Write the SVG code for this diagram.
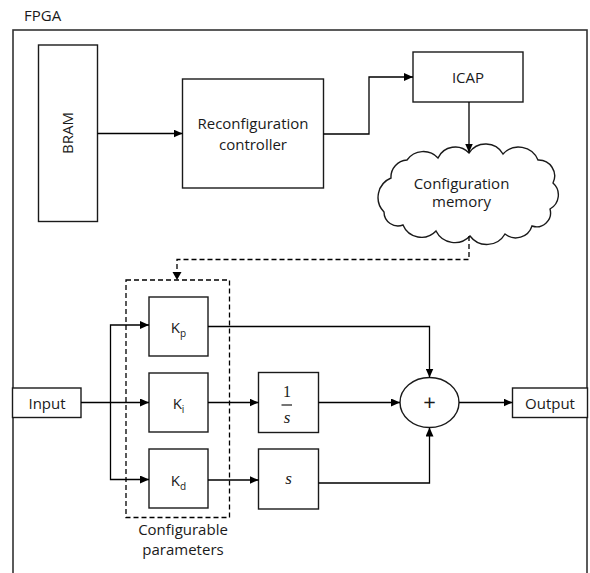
<svg xmlns="http://www.w3.org/2000/svg" width="590" height="573" viewBox="0 0 590 573">
  <style>
    .box { fill: #ffffff; stroke: #1a1a1a; stroke-width: 1.4; }
    .frame { fill: none; stroke: #333333; stroke-width: 1.6; }
    .wire { fill: none; stroke: #000000; stroke-width: 1.3; }
    .dash { fill: none; stroke: #000000; stroke-width: 1.3; stroke-dasharray: 5 3; }
    .lbl { font-family: "Open Sans", "Liberation Sans", sans-serif; font-size: 15px; fill: #1a1a1a; text-anchor: middle; }
    .sub { font-size: 10px; }
    .plus { font-size: 22px; }
    .math { font-family: "Liberation Serif", "DejaVu Serif", serif; fill: #1a1a1a; text-anchor: middle; }
  </style>
  <defs>
    <marker id="arrow" markerWidth="9" markerHeight="8" refX="9" refY="4" orient="auto" markerUnits="userSpaceOnUse">
      <path d="M0,0 L9,4 L0,8 z" fill="#000000"/>
    </marker>
  </defs>

  <rect width="590" height="573" fill="#ffffff"/>

  <!-- device boundary, open at the bottom edge -->
  <g id="fpga">
    <rect class="frame" x="13" y="30" width="574" height="560"/>
    <text x="24" y="20.5" font-family="Open Sans, Liberation Sans, sans-serif" font-size="15" fill="#1a1a1a">FPGA</text>
  </g>

  <g id="bram">
    <rect class="box" x="38.5" y="45" width="59" height="176.5"/>
    <text class="lbl" transform="translate(73,133) rotate(-90)">BRAM</text>
  </g>

  <g id="controller">
    <rect class="box" x="182.5" y="79" width="141" height="109"/>
    <text class="lbl" x="253" y="128.5">Reconfiguration</text>
    <text class="lbl" x="253" y="150">controller</text>
  </g>

  <g id="icap">
    <rect class="box" x="413" y="52" width="110" height="50"/>
    <text class="lbl" x="468" y="83">ICAP</text>
  </g>

  <g id="config-memory">
    <path class="box" d="M384,212
      A21,21 0 0 1 391,178
      A17,17 0 0 1 407,160
      A20,20 0 0 1 438,158
      A19,19 0 0 1 469,153
      A20,20 0 0 1 503,154
      A21,21 0 0 1 538,160
      A16,16 0 0 1 553,183
      A16,16 0 0 1 550,209
      A14,14 0 0 1 532,226
      A17,17 0 0 1 505,234
      A21,21 0 0 1 470,236
      A21,21 0 0 1 436,231
      A20,20 0 0 1 403,225
      A14,14 0 0 1 384,212 z"/>
    <text class="lbl" x="461.5" y="188.5">Configuration</text>
    <text class="lbl" x="461.5" y="207">memory</text>
  </g>

  <g id="params">
    <rect class="dash" x="126" y="280" width="103.5" height="237.5"/>
    <text class="lbl" x="183" y="535">Configurable</text>
    <text class="lbl" x="183" y="555">parameters</text>
  </g>

  <g id="kp">
    <rect class="box" x="149" y="297" width="59" height="59"/>
    <text class="lbl" x="178.5" y="333">K<tspan class="sub" dy="4">p</tspan></text>
  </g>

  <g id="ki">
    <rect class="box" x="149" y="373" width="59" height="59"/>
    <text class="lbl" x="178.5" y="409">K<tspan class="sub" dy="4">i</tspan></text>
  </g>

  <g id="kd">
    <rect class="box" x="149" y="449" width="59" height="59"/>
    <text class="lbl" x="178.5" y="486">K<tspan class="sub" dy="4">d</tspan></text>
  </g>

  <g id="integrator">
    <rect class="box" x="258.5" y="372.5" width="60" height="60"/>
    <text class="math" x="287" y="397" font-size="16">1</text>
    <line x1="281.5" y1="405" x2="292" y2="405" stroke="#1a1a1a" stroke-width="1.2"/>
    <text class="math" x="287" y="422.5" font-size="17" font-style="italic">s</text>
  </g>

  <g id="differentiator">
    <rect class="box" x="258.5" y="449" width="60" height="60"/>
    <text class="math" x="288.5" y="484" font-size="17" font-style="italic">s</text>
  </g>

  <g id="sum">
    <ellipse class="box" cx="429.5" cy="402.5" rx="29.5" ry="25"/>
    <text class="lbl plus" x="429.5" y="410">+</text>
  </g>

  <g id="input">
    <rect class="box" x="12.5" y="388" width="68.5" height="29.5"/>
    <text class="lbl" x="47" y="408.5">Input</text>
  </g>

  <g id="output">
    <rect class="box" x="512.5" y="388" width="75" height="29.5"/>
    <text class="lbl" x="550" y="408.5">Output</text>
  </g>

  <g id="connectors">
    <path class="wire" d="M97.5,133.5 H182.5" marker-end="url(#arrow)"/>
    <path class="wire" d="M323.5,134 H369 V77 H413" marker-end="url(#arrow)"/>
    <path class="wire" d="M469,102 V152.5" marker-end="url(#arrow)"/>
    <path class="dash" d="M469,236 V259.5 H177 V272"/>
    <path d="M172.5,272 L181.5,272 L177,280 z" fill="#000000"/>
    <path class="wire" d="M81,402.5 H149" marker-end="url(#arrow)"/>
    <path class="wire" d="M110.5,402.5 V325 H149" marker-end="url(#arrow)"/>
    <path class="wire" d="M110.5,402.5 V479.5 H149" marker-end="url(#arrow)"/>
    <path class="wire" d="M208,326.5 H429.5 V377.5" marker-end="url(#arrow)"/>
    <path class="wire" d="M208,402.5 H258.5" marker-end="url(#arrow)"/>
    <path class="wire" d="M208,480 H258.5" marker-end="url(#arrow)"/>
    <path class="wire" d="M318.5,402.5 H400" marker-end="url(#arrow)"/>
    <path class="wire" d="M318.5,483 H429.5 V427.5" marker-end="url(#arrow)"/>
    <path class="wire" d="M459,402.5 H512.5" marker-end="url(#arrow)"/>
  </g>
</svg>
